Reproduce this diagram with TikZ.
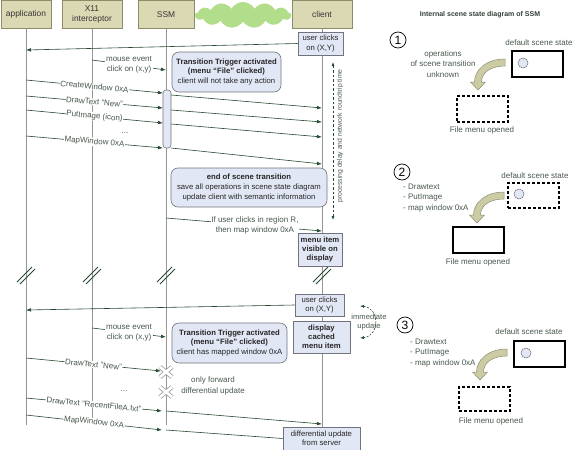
\documentclass[tikz,border=0pt]{standalone}
\usepackage{fontspec}
\setmainfont{Liberation Sans}
\usetikzlibrary{arrows.meta,shapes.symbols,backgrounds}
\definecolor{hdrfill}{RGB}{219,217,180}
\definecolor{hdrdraw}{RGB}{140,140,105}
\definecolor{cloudfill}{RGB}{178,222,140}
\definecolor{notefill}{RGB}{226,231,245}
\definecolor{notedraw}{RGB}{115,115,125}
\definecolor{arr}{RGB}{38,72,48}
\definecolor{lbl}{RGB}{72,88,76}
\definecolor{life}{RGB}{150,150,150}
\definecolor{fatfill}{RGB}{204,204,164}
\definecolor{fatdraw}{RGB}{140,140,115}
\newcommand{\fatarrowat}[2]{%
  \filldraw[fill=fatfill,draw=fatdraw,line width=.5pt,shift={(#1,#2)}]
    (27,-31) .. controls (8,-31) and (-3.5,-20) .. (-3.5,-8)
    -- (-7.5,-8) -- (0,0) -- (7.5,-8) -- (3.5,-8)
    .. controls (3.5,-17) and (12,-24) .. (27,-24) -- cycle;}
\begin{document}
\begin{tikzpicture}[x=1pt,y=-1pt,
  hdr/.style={draw=hdrdraw,fill=hdrfill,line width=.6pt,minimum height=28pt,align=center,inner sep=1pt,font=\fontsize{8.4}{10}\selectfont,text=black!80},
  lifeline/.style={draw=life,line width=.8pt},
  msg/.style={draw=arr,line width=.6pt,-{Latex[length=5pt,width=3.6pt]}},
  lab/.style={text=lbl,fill=white,inner sep=.6pt,font=\fontsize{8}{9.6}\selectfont,align=center},
  note/.style={draw=notedraw,fill=notefill,rounded corners=7pt,line width=.6pt,align=center,font=\fontsize{7.7}{9.6}\selectfont,inner sep=1pt,text=black!85},
  box/.style={draw=notedraw,fill=notefill,line width=.6pt,align=center,font=\fontsize{7.7}{9.2}\selectfont,inner sep=1pt,text=black!85},
  bbox/.style={box,font=\bfseries\fontsize{7.7}{9.2}\selectfont},
  brk/.style={draw=arr,line width=1pt},
  txt/.style={text=lbl,font=\fontsize{8}{10.2}\selectfont,align=center,inner sep=0pt},
  state/.style={draw=black,line width=1.6pt,minimum width=50pt,minimum height=25pt,inner sep=0pt},
  dstate/.style={state,dash pattern=on 3pt off 2pt},
  dotc/.style={circle,draw=notedraw,fill=notefill,line width=.5pt,minimum size=10pt,inner sep=0pt},
  num/.style={circle,draw=black,line width=.7pt,minimum size=16pt,inner sep=0pt,font=\fontsize{12}{12}\selectfont}
]
\useasboundingbox (0,0) rectangle (576,450);
% headers
\node[hdr,minimum width=50pt] (app) at (26,14.5) {application};
\node[hdr,minimum width=60pt] (x11) at (92,14.5) {X11\\interceptor};
\node[hdr,minimum width=56pt] (ssm) at (166,14.5) {SSM};
\node[cloud,cloud puffs=13,cloud puff arc=120,aspect=4.2,fill=cloudfill,minimum width=96pt,minimum height=26pt,inner sep=0pt] (cloud) at (243,15) {};
\node[hdr,minimum width=60pt] (cli) at (322,14.5) {client};
\coordinate (appE) at (26,425);
\coordinate (x11E) at (92,425);
\coordinate (ssmE) at (166,425);
\coordinate (cliE) at (322,427);
\begin{scope}[on background layer]
\draw[lifeline] (app.south) -- (appE);
\draw[lifeline] (x11.south) -- (x11E);
\draw[lifeline] (ssm.south) -- (ssmE);
\draw[lifeline] (cli.south) -- (cliE);
\end{scope}
% ---- section 1
\node[box,minimum width=45pt,minimum height=23pt] (uc1) at (320.5,43.5) {user clicks\\on (X,Y)};
\coordinate (a1) at (26,50);
\draw[msg] (uc1.west) -- (a1);
\coordinate (me1s) at (92,60); \coordinate (me1e) at (166,70);
\draw[msg] (me1s) -- node[lab]{mouse event\\click on (x,y)} (me1e);
\node[note,minimum width=109pt,minimum height=40pt] (trig1) at (226.5,72) {\textbf{Transition Trigger activated}\\\textbf{(menu “File” clicked)}\\client will not take any action};
\node[draw=notedraw,fill=notefill,rounded corners=3pt,line width=.6pt,minimum width=8pt,minimum height=58pt,inner sep=0pt] (bar) at (167,119) {};
\coordinate (c1s) at (26,80);  \coordinate (c1e) at (163,93);
\coordinate (d1s) at (26,96);  \coordinate (d1e) at (163,108);
\coordinate (p1s) at (26,110); \coordinate (p1e) at (163,123);
\coordinate (w1s) at (26,136); \coordinate (w1e) at (163,148);
\draw[msg] (c1s) -- node[lab,sloped]{CreateWindow 0xA} (c1e);
\draw[msg] (d1s) -- node[lab,sloped]{DrawText "New"} (d1e);
\draw[msg] (p1s) -- node[lab,sloped]{PutImage (icon)} (p1e);
\draw[msg] (w1s) -- node[lab,sloped]{MapWindow 0xA} (w1e);
\node[txt] (dots1) at (125,133) {...};
\coordinate (r1s) at (171,95);  \coordinate (r1e) at (322,108);
\coordinate (r2s) at (171,110); \coordinate (r2e) at (322,122);
\coordinate (r3s) at (171,124); \coordinate (r3e) at (322,137);
\coordinate (r4s) at (171,148); \coordinate (r4e) at (322,164);
\draw[msg] (r1s) -- (r1e);
\draw[msg] (r2s) -- (r2e);
\draw[msg] (r3s) -- (r3e);
\draw[msg] (r4s) -- (r4e);
\coordinate (pdT) at (333,62); \coordinate (pdB) at (333,220);
\draw[draw=arr,line width=.6pt,dash pattern=on 2.5pt off 2pt,{Latex[length=4pt,width=3pt]}-{Latex[length=4pt,width=3pt]}] (pdT) -- (pdB);
\node[rotate=90,text=lbl,font=\fontsize{6.8}{8}\selectfont,inner sep=0pt] (pdl) at (340,136) {processing delay and network roundtrip time};
\node[note,minimum width=156pt,minimum height=39pt] (endn) at (249,187.5) {\textbf{end of scene transition}\\save all operations in scene state diagram\\update client with semantic information};
\coordinate (ifs) at (166,218); \coordinate (ife) at (322,231);
\draw[msg] (ifs) -- node[lab,pos=0.57]{If user clicks in region R,\\then map window 0xA} (ife);
\node[bbox,minimum width=44pt,minimum height=33pt] (mvis) at (320,249.5) {menu item\\visible on\\display};
% breaks
\foreach \x in {26,92,166,322}{
  \draw[brk] (\x-9,282) -- (\x+6,267);
  \draw[brk] (\x-6,284) -- (\x+9,269);
}
% ---- section 2
\node[box,minimum width=49pt,minimum height=22pt] (uc2) at (319.5,305) {user clicks\\on (X,Y)};
\coordinate (a2) at (26,310);
\draw[msg] (uc2.west) -- (a2);
\node[bbox,minimum width=57pt,minimum height=32pt] (disp) at (321.5,337) {display\\cached\\menu item};
\coordinate (iu1) at (360,306); \coordinate (iu2) at (360,338);
\draw[draw=arr,line width=.6pt,dash pattern=on 2pt off 1.5pt,{Latex[length=4pt,width=3pt]}-{Latex[length=4pt,width=3pt]}] (iu1) .. controls (380,308) and (380,336) .. (iu2);
\node[txt,font=\fontsize{7.6}{9}\selectfont] (iul) at (369,322) {immediate\\update};
\coordinate (me2s) at (92,328); \coordinate (me2e) at (166,337);
\draw[msg] (me2s) -- node[lab]{mouse event\\click on (x,y)} (me2e);
\node[note,minimum width=115pt,minimum height=40pt] (trig2) at (229.5,343) {\textbf{Transition Trigger activated}\\\textbf{(menu “File” clicked)}\\client has mapped window 0xA};
\coordinate (d2s) at (26,358); \coordinate (d2e) at (161,371);
\draw[msg] (d2s) -- node[lab,sloped]{DrawText "New"} (d2e);
\foreach \y in {372,392}{
  \draw[line width=4.4pt,notedraw!70] (160,\y-5) -- (172,\y+5) (160,\y+5) -- (172,\y-5);
  \draw[line width=2.8pt,white] (160,\y-5) -- (172,\y+5) (160,\y+5) -- (172,\y-5);
}
\node[txt] (dots2) at (124,391) {...};
\node[txt] (fwd) at (213,386) {only forward\\differential update};
\node[box,minimum width=77pt,minimum height=23pt] (diff) at (321.5,438.5) {differential update\\from server};
\coordinate (f2s) at (26,398); \coordinate (f2e) at (162,411);
\coordinate (f3s) at (166,411); \coordinate (f3e) at (322,424);
\draw[msg] (f2s) -- node[lab,sloped]{DrawText "RecentFileA.txt"} (f2e);
\draw[msg] (f3s) -- (f3e);
\coordinate (w2s) at (26,415); \coordinate (w2e) at (162,430);
\coordinate (w3s) at (166,430);
\draw[msg] (w2s) -- node[lab,sloped]{MapWindow 0xA} (w2e);
\draw[draw=arr,line width=.6pt] (w3s) -- (diff.west);
% ---- right panel
\node[text=lbl!70!black,font=\bfseries\fontsize{7}{8}\selectfont] (title) at (480,15) {Internal scene state diagram of SSM};
% 1
\node[num] (n1) at (398,40) {1};
\node[txt] (ops1) at (443,64) {operations\\of scene transition\\unknown};
\node[txt] (dss1) at (539,43) {default scene state};
\node[state,minimum width=51pt,minimum height=26pt] (s1a) at (537.5,64) {};
\node[dotc] (d1) at (523,63) {};
\fatarrowat{478}{90}
\node[dstate,minimum width=51pt,minimum height=26pt] (s1b) at (482.5,109) {};
\node[txt] (fm1) at (482,130) {File menu opened};
% 2
\node[num] (n2) at (402,172) {2};
\node[txt,align=left,anchor=west] (ops2) at (403,198) {- Drawtext\\- PutImage\\- map window 0xA};
\node[txt] (dss2) at (535,176) {default scene state};
\node[dstate,minimum width=51pt,minimum height=25pt] (s2a) at (533.5,195.5) {};
\node[dotc] (d2) at (519,194) {};
\fatarrowat{477}{223}
\node[state,minimum width=51pt,minimum height=26pt] (s2b) at (478.5,240) {};
\node[txt] (fm2) at (478,262) {File menu opened};
% 3
\node[num] (n3) at (405,325) {3};
\node[txt,align=left,anchor=west] (ops3) at (410,353) {- Drawtext\\- PutImage\\- map window 0xA};
\node[txt] (dss3) at (529,332) {default scene state};
\node[state,minimum width=51pt,minimum height=26pt] (s3a) at (539.5,354) {};
\node[dotc] (d3) at (526,353) {};
\fatarrowat{480}{380}
\node[dstate,minimum width=51pt,minimum height=24pt] (s3b) at (484.5,399) {};
\node[txt] (fm3) at (491,421) {File menu opened};
\end{tikzpicture}
\end{document}
